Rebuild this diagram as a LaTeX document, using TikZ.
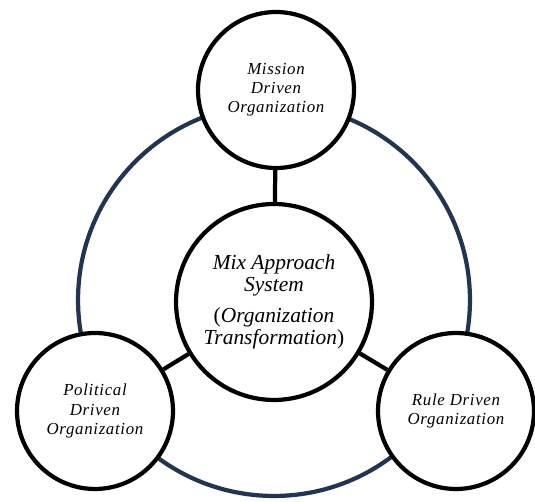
\documentclass[tikz,border=0pt]{standalone}
\usepackage{fontspec}
\setmainfont{Liberation Serif}
\usetikzlibrary{positioning}
\definecolor{ringblue}{HTML}{1F3552}

\begin{document}
\begin{tikzpicture}[
  x=0.02cm, y=-0.02cm,
  hub/.style={draw, circle, line width=2.4pt, fill=white, minimum size=3.92cm, inner sep=0pt, align=center, font=\fontsize{12.2}{12.6}\selectfont\itshape},
  org/.style={draw, circle, line width=2.4pt, fill=white, minimum size=3.12cm, inner sep=0pt, align=center, font=\fontsize{9.6}{10.9}\selectfont\itshape\addfontfeature{LetterSpace=4}},
  link/.style={line width=2.4pt, color=black},
  ring/.style={line width=2.4pt, color=ringblue}
]
\useasboundingbox (0,0) rectangle (535,502);

% outer ring behind everything
\draw[ring] (274,300) circle[radius=3.92cm];

\node[hub] (mix) at (274,302) {Mix Approach\\ System\\[5pt] \textup{(}Organization\\ Transformation\textup{)}};
\node[org] (mission) at (276,90) {Mission\\ Driven\\ Organization};
\node[org] (political) at (95,411) {Political\\ Driven\\ Organization};
\node[org] (rule) at (456,411) {Rule Driven\\ Organization};

\draw[link] (mix) -- (mission);
\draw[link] (mix) -- (political);
\draw[link] (mix) -- (rule);
\end{tikzpicture}
\end{document}
